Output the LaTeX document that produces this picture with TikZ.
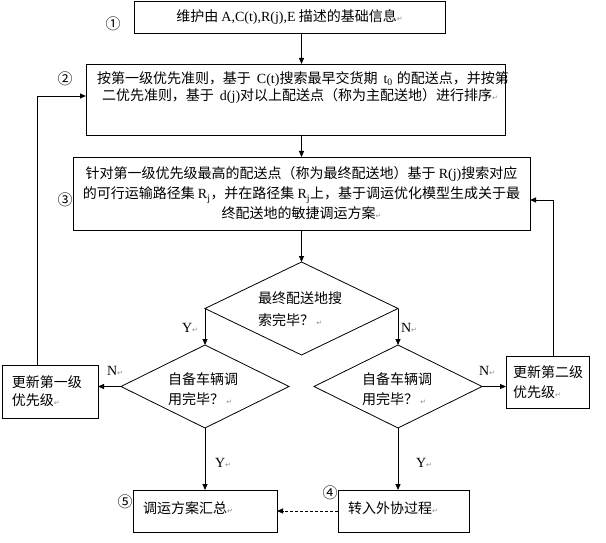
\documentclass[tikz,border=0pt]{standalone}
\usepackage{fontspec}
\setmainfont{Liberation Serif}
\newfontfamily\cjk{Noto Sans CJK SC}
\newfontfamily\symfont{DejaVu Sans}
\usetikzlibrary{shapes.geometric,arrows.meta}
\newcommand{\rmk}{{\symfont\fontsize{7}{7}\selectfont\color{black!45}↵}}
\newcommand{\en}[1]{{\rmfamily #1}}
\begin{document}
\begin{tikzpicture}[x=1pt,y=-1pt,
  every node/.style={inner sep=0pt, outer sep=0pt},
  boxnode/.style={draw, line width=0.8pt, rectangle},
  decision/.style={draw, line width=0.8pt, diamond, inner sep=0pt},
  txt/.style={font=\cjk\fontsize{14}{#1}\selectfont, align=left, anchor=west},
  txt/.default=17,
  lbl/.style={font=\rmfamily\fontsize{14}{14}\selectfont, anchor=west},
  num/.style={font=\cjk\fontsize{15}{15}\selectfont},
  arr/.style={line width=0.8pt, -{Triangle[length=6pt,width=5pt]}},
  line/.style={line width=0.8pt}
]
\useasboundingbox (0,0) rectangle (606,543);

% boxes
\node[boxnode, minimum width=311, minimum height=32,
      font=\cjk\fontsize{14}{17}\selectfont] (b1) at (289.5,17)
  {维护由 \en{A,C(t),R(j),E} 描述的基础信息\rmk};
\node[boxnode, minimum width=419, minimum height=71] (b2) at (295.5,99.5) {};
\node[txt=17] (t2) at (97,87.5)
  {按第一级优先准则，基于\hspace{6pt}\en{C(t)}搜索最早交货期\hspace{6pt}\en{t\textsubscript{0}}\hspace{4pt}的配送点，并按第\\
   \hspace*{5pt}二优先准则，基于\hspace{6pt}\en{d(j)}对以上配送点（称为主配送地）进行排序\rmk};
\node[boxnode, minimum width=457, minimum height=73, align=center,
      font=\cjk\fontsize{14}{20}\selectfont] (b3) at (301.5,193.5)
  {针对第一级优先级最高的配送点（称为最终配送地）基于 \en{R(j)}搜索对应\\
   的可行运输路径集 \en{R\textsubscript{j}}，并在路径集 \en{R\textsubscript{j}}上，基于调运优化模型生成关于最\\
   终配送地的敏捷调运方案\rmk};

% decisions
\node[decision, minimum width=193, minimum height=93] (d1) at (301.5,308.5) {};
\node[txt=22] (t_d1) at (258,309) {最终配送地搜\\索完毕？\,\rmk};
\node[decision, minimum width=168, minimum height=83] (d2) at (205,386.5) {};
\node[txt=20] (t_d2) at (168,389) {自备车辆调\\用完毕？\,\rmk};
\node[decision, minimum width=168, minimum height=83] (d3) at (398,386.5) {};
\node[txt=20] (t_d3) at (362,389) {自备车辆调\\用完毕？\,\rmk};

% update boxes
\node[boxnode, minimum width=96, minimum height=53] (u1) at (50,391.5) {};
\node[txt=18] (t_u1) at (12,391) {更新第一级\\优先级\rmk};
\node[boxnode, minimum width=83, minimum height=52] (u2) at (547.5,382) {};
\node[txt=20] (t_u2) at (513,382) {更新第二级\\优先级\rmk};

% bottom boxes
\node[boxnode, minimum width=144, minimum height=42] (b5) at (205,511) {};
\node[txt] (t_b5) at (143,508) {调运方案汇总\rmk};
\node[boxnode, minimum width=131, minimum height=42] (b4) at (403.5,511) {};
\node[txt] (t_b4) at (348,508) {转入外协过程\rmk};

% circled numbers
\node[num] (n1) at (113,24) {①};
\node[num] (n2) at (65,79) {②};
\node[num] (n3) at (65,200) {③};
\node[num] (n4) at (330,493) {④};
\node[num] (n5) at (125,502) {⑤};

% labels
\node[lbl] (yl1) at (182,328) {Y\rmk};
\node[lbl] (nl1) at (401,328) {N\rmk};
\node[lbl] (nl2) at (107,371) {N\rmk};
\node[lbl] (nl3) at (479,371) {N\rmk};
\node[lbl] (yl4) at (215,463) {Y\rmk};
\node[lbl] (yl5) at (416,463) {Y\rmk};

% connectors
\draw[arr] (b1.south -| d1.north) -- (b2.north -| d1.north);
\draw[arr] (b2.south -| d1.north) -- (b3.north -| d1.north);
\draw[arr] (b3.south -| d1.north) -- (d1.north);
\draw[arr] (d1.west) -- (d2.north);
\draw[arr] (d1.east) -- (d3.north);
\draw[arr] (d2.west) -- (d2.west -| u1.east);
\draw[arr] (d3.east) -- (d3.east -| u2.west);
\draw[arr] (d2.south) -- (b5.north);
\draw[arr] (d3.south) -- (d3.south |- b4.north);
\coordinate (c1) at (37,96);
\coordinate (c2) at (553,200);
\draw[arr] (u1.north -| c1) -- (c1) -- (b2.west |- c1);
\draw[arr] (u2.north -| c2) -- (c2) -- (b3.east |- c2);
\draw[arr, dashed, dash pattern=on 3pt off 2pt] (b4.west) -- (b5.east);
\end{tikzpicture}
\end{document}
